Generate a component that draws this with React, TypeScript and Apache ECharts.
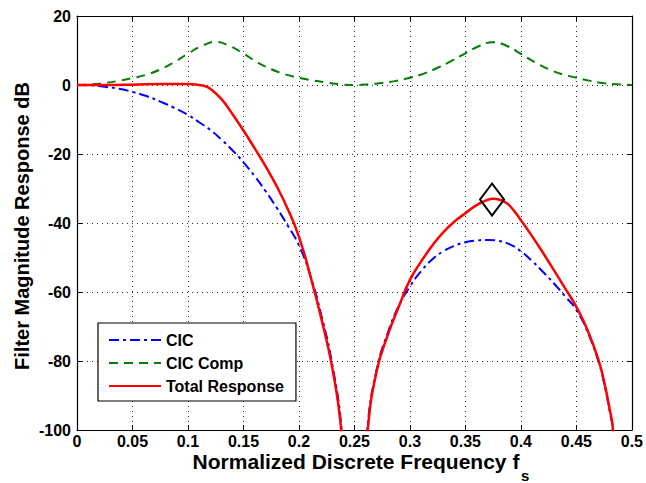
import React, { useEffect, useRef } from "react";
import * as echarts from "echarts";

// ---- data ----
const cicFreq = [0, 0.0125, 0.025, 0.0375, 0.05, 0.0625, 0.075, 0.0875, 0.1, 0.11, 0.12, 0.13, 0.14, 0.15, 0.16, 0.17, 0.18, 0.19, 0.2, 0.21, 0.22, 0.23, 0.2385, 0.25, 0.2615, 0.27, 0.28, 0.29, 0.3, 0.31, 0.32, 0.33, 0.34, 0.35, 0.36, 0.37, 0.38, 0.39, 0.4, 0.41, 0.42, 0.43, 0.44, 0.45, 0.46, 0.47, 0.475, 0.48, 0.4827, 0.49];
const cicDb = [0, -0.1, -0.5, -1.1, -2.0, -3.2, -4.8, -6.6, -8.7, -10.8, -13.0, -15.8, -18.9, -22.4, -26.4, -30.8, -35.6, -40.8, -46.5, -55, -66.5, -81, -100, -150, -100, -82.5, -71.8, -64, -58.4, -54, -50.6, -48.2, -46.6, -45.6, -45.1, -44.9, -45.2, -46.2, -48.2, -51, -54.2, -57.6, -61.3, -65.2, -71.5, -80.2, -86.5, -94.5, -100, -150];

const compFreq = [0, 0.0125, 0.025, 0.0375, 0.05, 0.0625, 0.075, 0.0875, 0.1, 0.1125, 0.125, 0.1375, 0.15, 0.1625, 0.175, 0.1875, 0.2, 0.2125, 0.225, 0.2375, 0.25, 0.2625, 0.275, 0.2875, 0.3, 0.3125, 0.325, 0.3375, 0.35, 0.3625, 0.375, 0.3875, 0.4, 0.4125, 0.425, 0.4375, 0.45, 0.4625, 0.475, 0.4875, 0.5];
const compDb = [0, 0.2, 0.6, 1.2, 2.0, 3.0, 4.5, 6.6, 9.1, 11.3, 12.5, 11.3, 9.1, 6.6, 4.6, 3.1, 2.1, 1.3, 0.7, 0.2, 0, 0.2, 0.6, 1.2, 2.1, 3.3, 5.0, 7.0, 9.2, 11.3, 12.4, 11.3, 9.0, 6.6, 4.6, 3.1, 2.1, 1.2, 0.5, 0.2, 0];

const totalFreq = [0, 0.025, 0.05, 0.075, 0.1, 0.11, 0.115, 0.12, 0.13, 0.14, 0.15, 0.16, 0.17, 0.18, 0.19, 0.2, 0.21, 0.22, 0.23, 0.2381, 0.25, 0.262, 0.27, 0.28, 0.29, 0.3, 0.31, 0.32, 0.33, 0.34, 0.35, 0.36, 0.37, 0.375, 0.38, 0.385, 0.39, 0.4, 0.41, 0.42, 0.43, 0.44, 0.45, 0.46, 0.47, 0.475, 0.48, 0.483, 0.49];
const totalDb = [0, 0, 0.1, 0.3, 0.3, 0, -0.3, -1.1, -4.0, -8.4, -13.2, -18.3, -23.6, -29.4, -36, -44, -55, -67.5, -82, -100, -150, -100, -83, -72.5, -64.2, -56.5, -51.2, -46.6, -42.7, -39.6, -37.2, -34.8, -33.3, -33.0, -33.2, -33.8, -35.0, -39.2, -43.8, -48.7, -53.8, -59.0, -64.3, -71, -79.8, -86, -94, -100, -150];

const markerPoint = [0.374, -33.2];

const xTicks = { min: 0, max: 0.5, interval: 0.05 };
const yTicks = { min: -100, max: 20, interval: 20 };

const seriesNames = ["CIC", "CIC Comp", "Total Response"];

const zip = (xs: number[], ys: number[]) => xs.map((x, i) => [x, ys[i]]);

export default function App() {
  const ref = useRef<HTMLDivElement>(null);

  useEffect(() => {
    if (!ref.current) return;
    const chart = echarts.init(ref.current, undefined, { renderer: "svg" });
    const font = "Liberation Sans, Arial, sans-serif";
    const mkSplit = () => ({
      show: true,
      lineStyle: { color: "#000", width: 1, type: [1, 4] as any, opacity: 0.85 },
    });
    const axisLine = { show: true, onZero: false, lineStyle: { color: "#000", width: 1.2 } };
    const axisTick = { show: true, inside: true, length: 5, lineStyle: { color: "#000", width: 1 } };
    chart.setOption({
      animation: false,
      backgroundColor: "#fff",
      grid: { left: 77, right: 12, top: 16, bottom: 53 },
      legend: {
        orient: "vertical",
        left: 98,
        top: 323,
        data: seriesNames,
        backgroundColor: "#fff",
        borderColor: "#000",
        borderWidth: 1.2,
        borderRadius: 0,
        padding: [9, 12, 7, 10],
        itemWidth: 52,
        itemHeight: 14,
        itemGap: 7,
        itemStyle: { opacity: 0 },
        textStyle: { fontFamily: font, fontWeight: "bold", fontSize: 16, color: "#000" },
      },
      xAxis: [
        {
          type: "value",
          min: xTicks.min,
          max: xTicks.max,
          interval: xTicks.interval,
          axisLine,
          axisTick,
          axisLabel: {
            fontFamily: font,
            fontWeight: "bold",
            fontSize: 16,
            color: "#000",
            margin: 3,
            formatter: (v: number) => String(+v.toFixed(2)),
          },
          splitLine: mkSplit(),
        },
        {
          type: "value",
          position: "top",
          min: xTicks.min,
          max: xTicks.max,
          interval: xTicks.interval,
          axisLine,
          axisTick,
          axisLabel: { show: false },
          splitLine: { show: false },
        },
      ],
      yAxis: [
        {
          type: "value",
          min: yTicks.min,
          max: yTicks.max,
          interval: yTicks.interval,
          axisLine,
          axisTick,
          axisLabel: { fontFamily: font, fontWeight: "bold", fontSize: 16, color: "#000", margin: 6 },
          splitLine: mkSplit(),
        },
        {
          type: "value",
          position: "right",
          min: yTicks.min,
          max: yTicks.max,
          interval: yTicks.interval,
          axisLine,
          axisTick,
          axisLabel: { show: false },
          splitLine: { show: false },
        },
      ],
      series: [
        {
          name: seriesNames[0],
          type: "line",
          data: zip(cicFreq, cicDb),
          symbol: "none",
          smooth: 0.5,
          clip: true,
          lineStyle: { color: "#0000ff", width: 2, type: [10, 4, 3, 4] },
          itemStyle: { color: "#0000ff" },
          z: 2,
        },
        {
          name: seriesNames[1],
          type: "line",
          data: zip(compFreq, compDb),
          symbol: "none",
          smooth: 0.5,
          clip: true,
          lineStyle: { color: "#008000", width: 2, type: [9, 6] },
          itemStyle: { color: "#008000" },
          z: 3,
        },
        {
          name: seriesNames[2],
          type: "line",
          data: zip(totalFreq, totalDb),
          symbol: "none",
          smooth: 0.5,
          clip: true,
          lineStyle: { color: "#ff0000", width: 2.5 },
          itemStyle: { color: "#ff0000" },
          z: 4,
        },
        {
          name: "peak",
          type: "scatter",
          data: [markerPoint],
          symbol: "diamond",
          symbolSize: [24, 32],
          itemStyle: { color: "rgba(0,0,0,0)", borderColor: "#000", borderWidth: 2, opacity: 1 },
          z: 5,
        },
      ],
      graphic: [
        {
          type: "text",
          x: 356,
          y: 461,
          style: {
            text: "Normalized Discrete Frequency f",
            fontFamily: font,
            fontWeight: "bold",
            fontSize: 21,
            fill: "#000",
            align: "center",
            verticalAlign: "middle",
          },
        },
        {
          type: "text",
          x: 521,
          y: 475,
          style: {
            text: "s",
            fontFamily: font,
            fontWeight: "bold",
            fontSize: 15,
            fill: "#000",
            align: "left",
            verticalAlign: "middle",
          },
        },
        {
          type: "text",
          x: 22,
          y: 226,
          rotation: Math.PI / 2,
          style: {
            text: "Filter Magnitude Response dB",
            fontFamily: font,
            fontWeight: "bold",
            fontSize: 20,
            fill: "#000",
            align: "center",
            verticalAlign: "middle",
          },
        },
      ],
    });
    return () => chart.dispose();
  }, []);

  return (
    <div
      ref={ref}
      style={{ position: "fixed", left: 0, top: 0, width: 646, height: 483, background: "#fff" }}
    />
  );
}
